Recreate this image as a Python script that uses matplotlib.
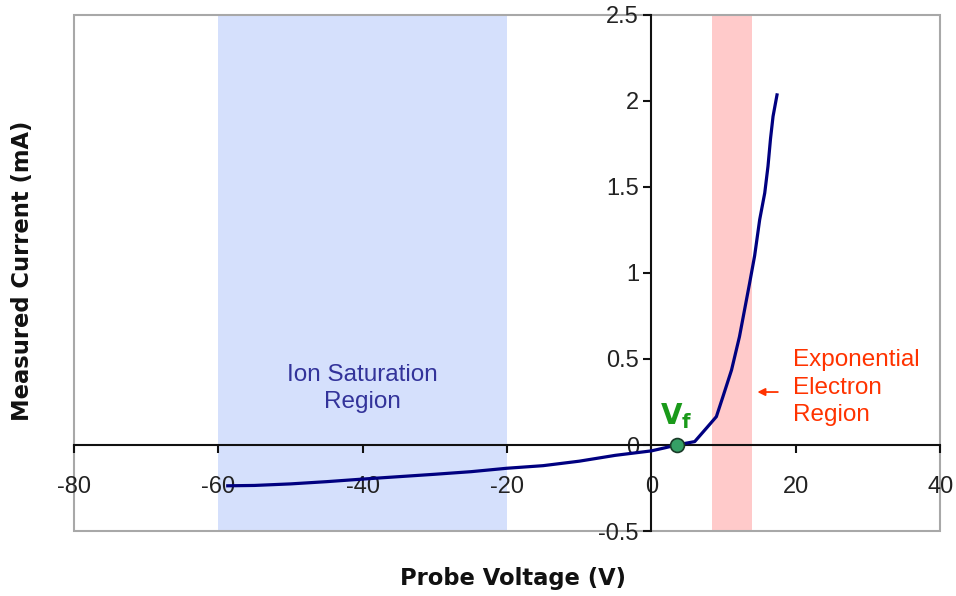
import numpy as np
import matplotlib
matplotlib.use('Agg')
import matplotlib.pyplot as plt
from matplotlib.patches import Rectangle

plt.rcParams['font.family'] = ['Liberation Sans', 'DejaVu Sans']

# probe I-V trace (V, mA)
probe_v = [-58.7, -55, -50, -45, -40, -35, -30, -25, -20, -15, -10, -5, 0, 2, 3.5,
           5.0, 6.0, 7.6, 9.0, 9.9, 11.1, 12.2, 12.9, 13.6, 14.3, 15.0, 15.7, 16.15,
           16.5, 16.85, 17.4]
current_ma = [-0.237, -0.235, -0.226, -0.213, -0.198, -0.184, -0.17, -0.155, -0.135, -0.12,
              -0.094, -0.06, -0.034, -0.015, 0.0,
              0.012, 0.02, 0.097, 0.165, 0.28, 0.436, 0.63, 0.785, 0.94, 1.1, 1.31, 1.465,
              1.62, 1.78, 1.91, 2.035]

v_float = 3.5
ion_region = (-60, -20)
electron_region = (8.4, 14.0)

x_ticks = [-80, -60, -40, -20, 0, 20, 40]
y_ticks = [-0.5, 0, 0.5, 1, 1.5, 2, 2.5]

fig = plt.figure(figsize=(9.56, 5.96), dpi=100)
ax = fig.add_axes([0.0774, 0.109, 0.906, 0.866])

ax.axvspan(*ion_region, color='#d5e0fc', lw=0, zorder=0)
ax.axvspan(*electron_region, color='#ffcaca', lw=0, zorder=0)

ax.plot(probe_v, current_ma, color='#000080', lw=2.3, zorder=3)
ax.plot([v_float], [0], 'o', ms=10, mfc='#35a065', mec='#1a3a28', mew=1.2, zorder=4)

ax.set_xlim(-80, 40)
ax.set_ylim(-0.5, 2.5)
ax.set_xticks(x_ticks)
ax.set_yticks(y_ticks)
ax.set_xticklabels([str(t) for t in x_ticks])
ax.set_yticklabels(['-0.5', '0', '0.5', '1', '1.5', '2', '2.5'])

# axes cross at the origin
for side in ['left', 'bottom']:
    ax.spines[side].set_position(('data', 0))
    ax.spines[side].set_color('#111111')
    ax.spines[side].set_linewidth(1.5)
for side in ['top', 'right']:
    ax.spines[side].set_visible(False)
ax.add_patch(Rectangle((0, 0), 1, 1, transform=ax.transAxes, fill=False,
                       edgecolor='#a8a8a8', lw=1.5, clip_on=False, zorder=1))

ax.tick_params(axis='both', direction='out', length=6, width=1.5, color='#111111',
               labelsize=17, labelcolor='#222222')
ax.tick_params(axis='x', pad=16)
ax.tick_params(axis='y', pad=3)

fig.text(0.537, 0.03, 'Probe Voltage (V)', ha='center', va='center',
         fontsize=16.3, fontweight='bold', color='#111111', family='DejaVu Sans')
fig.text(0.024, 0.545, 'Measured Current (mA)', ha='center', va='center',
         rotation=90, fontsize=16.3, fontweight='bold', color='#111111', family='DejaVu Sans')

ax.text(-40, 0.33, 'Ion Saturation\nRegion', ha='center', va='center',
        fontsize=17.5, color='#33339a', linespacing=1.32)
ax.text(19.6, 0.333, 'Exponential\nElectron\nRegion', ha='left', va='center',
        fontsize=17.5, color='#ff3300', linespacing=1.32)
ax.annotate('', xy=(14.3, 0.308), xytext=(17.9, 0.308),
            arrowprops=dict(arrowstyle='-|>', color='#ff3300', lw=1.3,
                            mutation_scale=11))
ax.text(v_float, 0.08, r'$\mathbf{V_f}$', ha='center', va='bottom',
        fontsize=20, color='#1a9a1a')

fig.savefig('out.png', dpi=100)
